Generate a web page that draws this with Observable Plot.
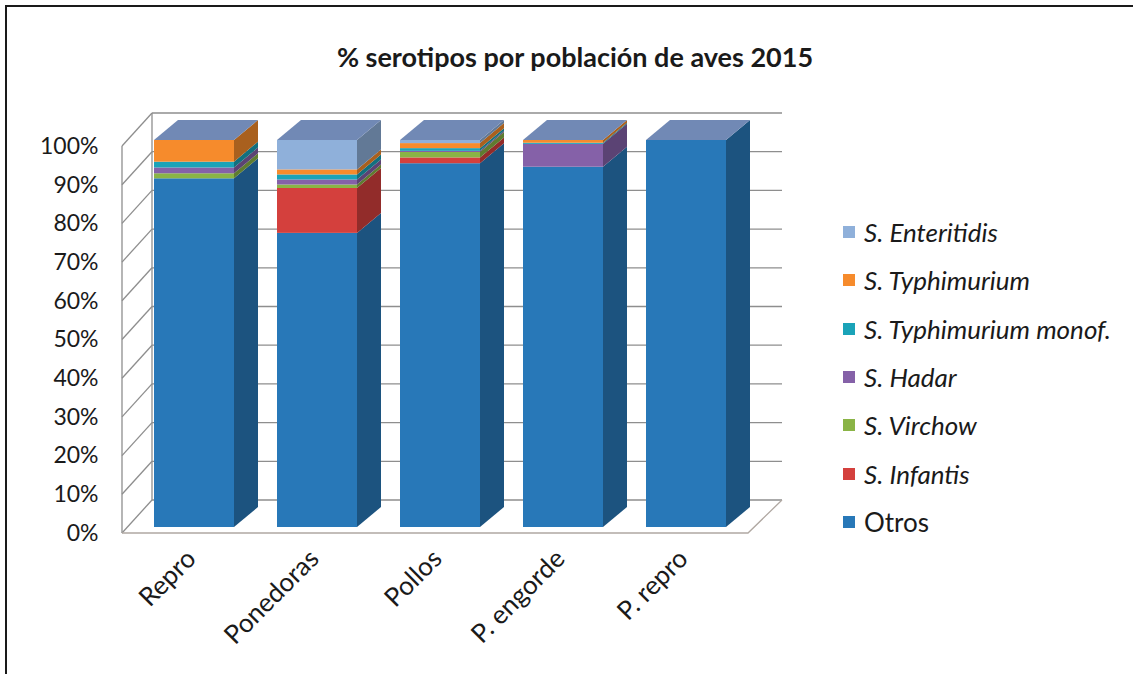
<!DOCTYPE html>
<html>
<head>
<meta charset="utf-8">
<script src="https://cdn.jsdelivr.net/npm/d3@7"></script>
<script src="https://cdn.jsdelivr.net/npm/@observablehq/plot@0.6"></script>
<style>
  body { margin: 0; background: #fff; font-family: Lato, "Noto Sans", sans-serif; color: #1a1a1a; }
  #wrap { position: relative; width: 1133px; height: 674px; overflow: hidden; background: #fff; }
  #frame { position: absolute; left: 5px; top: 5px; width: 1300px; height: 800px; border-left: 2px solid #1a1a1a; border-top: 2px solid #1a1a1a; pointer-events: none; }
  #title { position: absolute; left: 0; top: 41px; width: 1150px; text-align: center; font-weight: 700; font-size: 27px; line-height: 32px; color: #1a1a1a; }
  #chart { position: absolute; left: 0; top: 90px; }
  #legend { position: absolute; left: 843px; top: 208px; font-size: 26px; }
  .row { display: flex; align-items: center; height: 48.3px; }
  .sw { width: 12px; height: 12px; margin-right: 9px; flex: none; }
</style>
</head>
<body>
<div id="wrap">
  <div id="title">% serotipos por población de aves 2015</div>
  <div id="chart"></div>
  <div id="legend"></div>
  <div id="frame"></div>
</div>
<script>
// ---- data ----
const categories = ["Repro", "Ponedoras", "Pollos", "P. engorde", "P. repro"];
const series = ["Otros", "S. Infantis", "S. Virchow", "S. Hadar", "S. Typhimurium monof.", "S. Typhimurium", "S. Enteritidis"];
const otros        = [90.1, 76.0, 94.0, 93.1, 100];
const infantis     = [0,    11.6, 1.5,  0,    0];
const virchow      = [1.3,  0.9,  1.4,  0,    0];
const hadar        = [1.5,  1.3,  0.3,  5.9,  0];
const typhMonof    = [1.5,  1.3,  0.7,  0.3,  0];
const typhimurium  = [5.6,  1.3,  1.3,  0.7,  0];
const enteritidis  = [0,    7.6,  0.8,  0,    0];
const seriesValues = [otros, infantis, virchow, hadar, typhMonof, typhimurium, enteritidis];
const seriesColors = ["#2878b8", "#d4403d", "#8ab446", "#8561a8", "#1aa3b8", "#f68b2c", "#8fb0da"];
const yTicks = [0, 10, 20, 30, 40, 50, 60, 70, 80, 90, 100];

const rows = [];
series.forEach((s, si) => categories.forEach((c, ci) => rows.push({group: c, series: s, value: seriesValues[si][ci]})));

// ---- 3D-ish styling constants ----
const DEPTH_X = 24, DEPTH_Y = -20;
const TOP_FACE = "#7189b5";
const GRID = "#8e8e8e";

function bars3d(I, scales, values) {
  const g = d3.create("svg:g");
  const bw = scales.x.bandwidth();
  const tops = new Map();
  const fronts = g.append("g"), sides = g.append("g"), topsG = g.append("g");
  for (const i of I) {
    const x0 = values.x[i];
    const ya = values.y1[i], yb = values.y2[i];
    const yt = Math.min(ya, yb), ybt = Math.max(ya, yb);
    if (ybt - yt < 0.05) continue;
    const c = values.fill[i];
    const xr = x0 + bw;
    fronts.append("rect").attr("x", x0).attr("y", yt).attr("width", bw).attr("height", ybt - yt).attr("fill", c);
    sides.append("polygon")
      .attr("points", [[xr, ybt], [xr + DEPTH_X, ybt + DEPTH_Y], [xr + DEPTH_X, yt + DEPTH_Y], [xr, yt]].map(p => p.join(",")).join(" "))
      .attr("fill", d3.color(c).darker(1.05));
    if (!tops.has(x0) || yt < tops.get(x0)) tops.set(x0, yt);
  }
  for (const [x0, yt] of tops) {
    const xr = x0 + bw;
    topsG.append("polygon")
      .attr("points", [[x0, yt], [x0 + DEPTH_X, yt + DEPTH_Y], [xr + DEPTH_X, yt + DEPTH_Y], [xr, yt]].map(p => p.join(",")).join(" "))
      .attr("fill", TOP_FACE);
  }
  return g.node();
}

function walls(I, scales, values, dims) {
  const g = d3.create("svg:g").attr("stroke", GRID).attr("stroke-width", 1.3).attr("fill", "none");
  const L = dims.marginLeft, R = dims.width - dims.marginRight;
  const fx = L + 13, fdy = 6, bx = L + 43, bdy = -27, brx = R + 10;
  const y0 = scales.y(0), y100 = scales.y(100);
  for (const i of I) {
    const y = values.y[i];
    g.append("line").attr("x1", fx).attr("y1", y + fdy).attr("x2", bx).attr("y2", y + bdy);
    g.append("line").attr("x1", bx).attr("y1", y + bdy).attr("x2", brx).attr("y2", y + bdy);
  }
  g.append("line").attr("x1", fx).attr("y1", y0 + fdy).attr("x2", fx).attr("y2", y100 + fdy);
  g.append("line").attr("x1", bx).attr("y1", y0 + bdy).attr("x2", bx).attr("y2", y100 + bdy);
  g.append("polyline").attr("stroke", "#b0a8a2")
    .attr("points", [[fx, y0 + fdy], [R - 24, y0 + fdy], [brx, y0 + bdy]].map(p => p.join(",")).join(" "));
  return g.node();
}

const chart = Plot.plot({
  width: 800,
  height: 570,
  marginLeft: 109,
  marginRight: 28,
  marginTop: 50,
  marginBottom: 133,
  style: {fontFamily: "Lato, 'Noto Sans', sans-serif", fontSize: "22px", color: "#1a1a1a", background: "transparent"},
  x: {domain: categories, paddingInner: 0.347, paddingOuter: 0.347},
  y: {domain: [0, 100]},
  color: {domain: series, range: seriesColors},
  marks: [
    Plot.ruleY(yTicks, {y: d => d, render: walls}),
    Plot.barY(rows, Plot.stackY({x: "group", y: "value", fill: "series", order: series, render: bars3d})),
    Plot.axisY({ticks: yTicks, tickFormat: d => d + "%", tickSize: 0, tickPadding: 11, dy: 6, fontSize: 23, label: null}),
    Plot.axisX({tickRotate: -45, tickSize: 0, tickPadding: 27, dx: -3, fontSize: 26, label: null})
  ]
});
document.getElementById("chart").appendChild(chart);

// ---- legend ----
const legend = d3.select("#legend");
series.slice().reverse().forEach(s => {
  const row = legend.append("div").attr("class", "row");
  row.append("div").attr("class", "sw").style("background", seriesColors[series.indexOf(s)]);
  row.append("span").text(s).style("font-style", s.startsWith("S.") ? "italic" : "normal");
});
</script>
</body>
</html>
